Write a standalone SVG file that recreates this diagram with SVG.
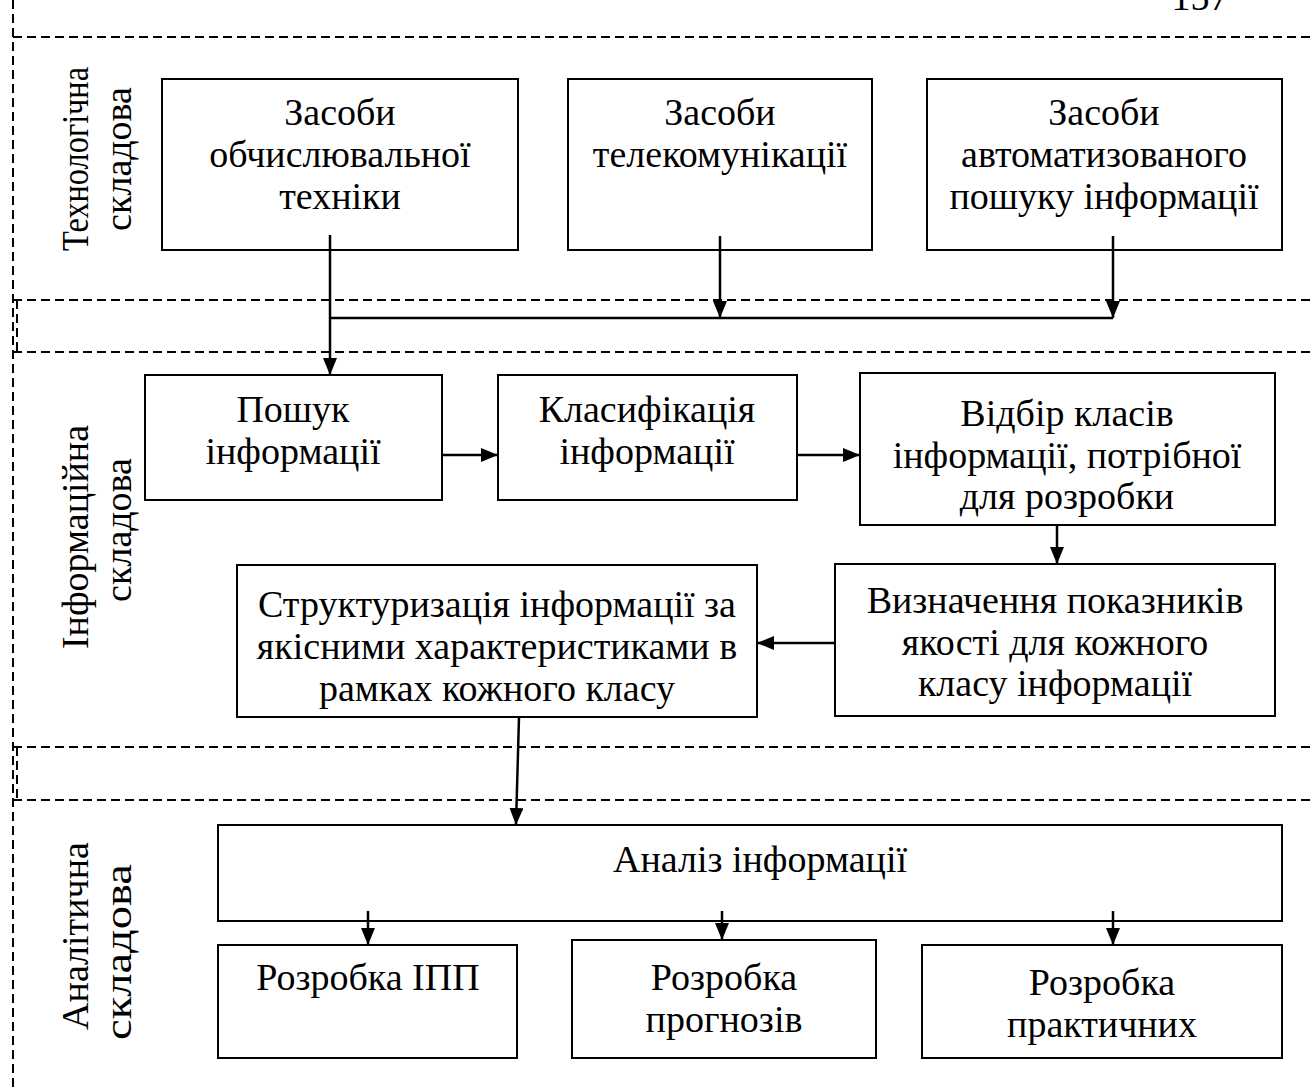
<svg xmlns="http://www.w3.org/2000/svg" width="1313" height="1088" viewBox="0 0 1313 1088">
<style>
text{font-family:"Liberation Serif","Times New Roman",serif;font-size:38px;fill:#000;text-anchor:middle}
.box{fill:#fff;stroke:#000;stroke-width:2}
.dash{stroke:#000;stroke-width:2;stroke-dasharray:9 5;fill:none}
.con{stroke:#000;stroke-width:2.5;fill:none}
.arr{marker-end:url(#ah)}
</style>
<defs>
<marker id="ah" markerUnits="userSpaceOnUse" markerWidth="18" markerHeight="14" refX="17" refY="7" orient="auto">
<path d="M0,0 L17,7 L0,14 z" fill="#000"/>
</marker>
</defs>
<rect width="1313" height="1088" fill="#fff"/>
<g id="page-number"><text x="1200" y="10">157</text></g>
<g id="zones">
<line class="dash" x1="13" y1="0" x2="13" y2="1088"/>
<line class="dash" x1="17" y1="300" x2="17" y2="352"/>
<line class="dash" x1="17" y1="747" x2="17" y2="800"/>
<line class="dash" x1="13" y1="37" x2="1313" y2="37"/>
<line class="dash" x1="13" y1="300" x2="1313" y2="300"/>
<line class="dash" x1="13" y1="352" x2="1313" y2="352"/>
<line class="dash" x1="13" y1="747" x2="1313" y2="747"/>
<line class="dash" x1="13" y1="800" x2="1313" y2="800"/>
</g>
<g id="label-tech">
<text transform="translate(88,159) rotate(-90)" textLength="184" lengthAdjust="spacingAndGlyphs">Технологічна</text>
<text transform="translate(131,159) rotate(-90)">складова</text>
</g>
<g id="label-info">
<text transform="translate(88,537) rotate(-90)">Інформаційна</text>
<text transform="translate(131,530) rotate(-90)">складова</text>
</g>
<g id="label-anal">
<text transform="translate(88,936) rotate(-90)">Аналітична</text>
<text transform="translate(131,952) rotate(-90)" textLength="176" lengthAdjust="spacingAndGlyphs">складова</text>
</g>
<g id="n-obch"><rect class="box" x="162" y="79" width="356" height="171"/>
<text x="340" y="125">Засоби</text><text x="340" y="167">обчислювальної</text><text x="340" y="209">техніки</text></g>
<g id="n-tele"><rect class="box" x="568" y="79" width="304" height="171"/>
<text x="720" y="125">Засоби</text><text x="720" y="167">телекомунікації</text></g>
<g id="n-auto"><rect class="box" x="927" y="79" width="355" height="171"/>
<text x="1104" y="125">Засоби</text><text x="1104" y="167">автоматизованого</text><text x="1104" y="209">пошуку інформації</text></g>
<g id="n-poshuk"><rect class="box" x="145" y="375" width="297" height="125"/>
<text x="293" y="422">Пошук</text><text x="293" y="464">інформації</text></g>
<g id="n-klas"><rect class="box" x="498" y="375" width="299" height="125"/>
<text x="647" y="422">Класифікація</text><text x="647" y="464">інформації</text></g>
<g id="n-vidbir"><rect class="box" x="860" y="373" width="415" height="152"/>
<text x="1067" y="426">Відбір класів</text><text x="1067" y="468">інформації, потрібної</text><text x="1067" y="509">для розробки</text></g>
<g id="n-vyzn"><rect class="box" x="835" y="564" width="440" height="152"/>
<text x="1055" y="613">Визначення показників</text><text x="1055" y="655">якості для кожного</text><text x="1055" y="696">класу інформації</text></g>
<g id="n-struct"><rect class="box" x="237" y="565" width="520" height="152"/>
<text x="497" y="617">Структуризація інформації за</text><text x="497" y="659">якісними характеристиками в</text><text x="497" y="701">рамках кожного класу</text></g>
<g id="n-analiz"><rect class="box" x="218" y="825" width="1064" height="96"/>
<text x="760" y="872">Аналіз інформації</text></g>
<g id="n-ipp"><rect class="box" x="218" y="945" width="299" height="113"/>
<text x="368" y="990">Розробка ІПП</text></g>
<g id="n-prog"><rect class="box" x="572" y="940" width="304" height="118"/>
<text x="724" y="990">Розробка</text><text x="724" y="1032">прогнозів</text></g>
<g id="n-prakt"><rect class="box" x="922" y="945" width="360" height="113"/>
<text x="1102" y="995">Розробка</text><text x="1102" y="1037">практичних</text></g>
<g id="connectors">
<line class="con arr" x1="330" y1="235" x2="330" y2="375"/>
<line class="con arr" x1="720" y1="236" x2="720" y2="318"/>
<line class="con arr" x1="1113" y1="236" x2="1113" y2="318"/>
<line class="con" x1="330" y1="318" x2="1113" y2="318"/>
<line class="con arr" x1="442" y1="455" x2="498" y2="455"/>
<line class="con arr" x1="797" y1="455" x2="860" y2="455"/>
<line class="con arr" x1="1057" y1="525" x2="1057" y2="564"/>
<line class="con arr" x1="835" y1="643" x2="757" y2="643"/>
<line class="con arr" x1="519" y1="717" x2="516" y2="825"/>
<line class="con arr" x1="368" y1="911" x2="368" y2="945"/>
<line class="con arr" x1="722" y1="911" x2="722" y2="940"/>
<line class="con arr" x1="1113" y1="911" x2="1113" y2="945"/>
</g>
</svg>
